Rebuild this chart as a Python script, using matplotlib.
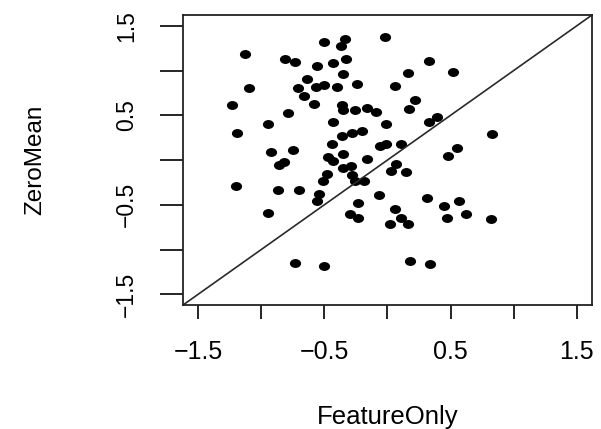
import numpy as np
import matplotlib
matplotlib.use("Agg")
import matplotlib.pyplot as plt
from matplotlib.markers import MarkerStyle
from matplotlib.transforms import Affine2D

plt.rcParams['font.family'] = ['Liberation Sans', 'DejaVu Sans']

# per-item scores: feature-only model vs zero-mean model
feature_only = [
    -0.50, -0.34, -0.37, -0.02, -1.13, -0.81, -0.73, -0.56, -0.43, -0.33,
    -0.35, -1.10, -0.64, -0.71, -0.57, -0.50, -0.40, -0.24, -0.66, -1.23,
    -0.58, -0.79, -0.36, -0.35, -0.26, -0.16, -0.09, -0.95, -0.43, -0.01,
    -1.19, -0.36, -0.28, -0.20, -0.44, -0.06, -0.01, -0.92, -0.75, -0.47,
    -0.43, -0.35, -0.16, -0.86, -0.82, -0.48, -0.51, -0.35, -0.29, -0.28,
    -0.26, -0.19, 0.03, 0.07, 0.15, -1.20, -0.87, -0.70, -0.54, -0.56,
    -0.07, -0.23, -0.95, -0.30, -0.23, 0.02, 0.06, 0.11, 0.16, 0.31,
    0.45, 0.57, 0.47, 0.62, 0.82, 0.18, 0.34, -0.73, -0.50, 0.33,
    0.16, 0.52, 0.06, 0.22, 0.17, 0.39, 0.33, 0.83, 0.11, 0.48,
    0.55,
]
zero_mean = [
    1.32, 1.35, 1.27, 1.37, 1.18, 1.13, 1.10, 1.05, 1.08, 1.13,
    0.96, 0.81, 0.90, 0.80, 0.82, 0.84, 0.82, 0.85, 0.72, 0.61,
    0.63, 0.53, 0.61, 0.56, 0.56, 0.58, 0.54, 0.40, 0.42, 0.40,
    0.30, 0.27, 0.30, 0.32, 0.18, 0.16, 0.18, 0.09, 0.11, 0.03,
    -0.01, 0.07, 0.01, -0.06, -0.02, -0.16, -0.24, -0.09, -0.07, -0.17,
    -0.24, -0.24, -0.12, -0.05, -0.13, -0.29, -0.33, -0.33, -0.38, -0.46,
    -0.39, -0.48, -0.59, -0.60, -0.65, -0.71, -0.55, -0.65, -0.71, -0.42,
    -0.51, -0.46, -0.65, -0.60, -0.66, -1.13, -1.16, -1.15, -1.18, 1.11,
    0.97, 0.98, 0.83, 0.67, 0.57, 0.48, 0.43, 0.29, 0.18, 0.05,
    0.13,
]

ticks = [-1.5, -1.0, -0.5, 0.0, 0.5, 1.0, 1.5]
tick_labels = ['\u22121.5', '', '\u22120.5', '', '0.5', '', '1.5']
lim = (-1.62, 1.62)

fig = plt.figure(figsize=(6.01, 4.29), dpi=100)
ax = fig.add_axes([0.3045, 0.289, 0.6805, 0.676])

dot = MarkerStyle('o', transform=Affine2D().scale(1.3, 1.0))
ax.plot(feature_only, zero_mean, linestyle='none', marker=dot,
        markersize=5.4, color='black')
ax.axline((0, 0), slope=1, color='#2a2a2a', linewidth=1.2)

ax.set_xlim(lim)
ax.set_ylim(lim)
ax.set_xticks(ticks)
ax.set_xticklabels(tick_labels)
ax.set_yticks(ticks)
ax.set_yticklabels(tick_labels, rotation=90, va='center')

ax.tick_params(axis='x', length=10, width=1.2, pad=15, labelsize=18)
ax.tick_params(axis='y', length=16.5, width=1.2, pad=16, labelsize=16.5)

for s in ax.spines.values():
    s.set_linewidth(1.3)
    s.set_color('#222222')

ax.set_xlabel('FeatureOnly', fontsize=18.5, va='baseline')
ax.xaxis.set_label_coords(0.5, -0.41)
ax.set_ylabel('ZeroMean', fontsize=17.5, va='center')
ax.yaxis.set_label_coords(-0.362, 0.5)

fig.savefig('out.png', dpi=100)
